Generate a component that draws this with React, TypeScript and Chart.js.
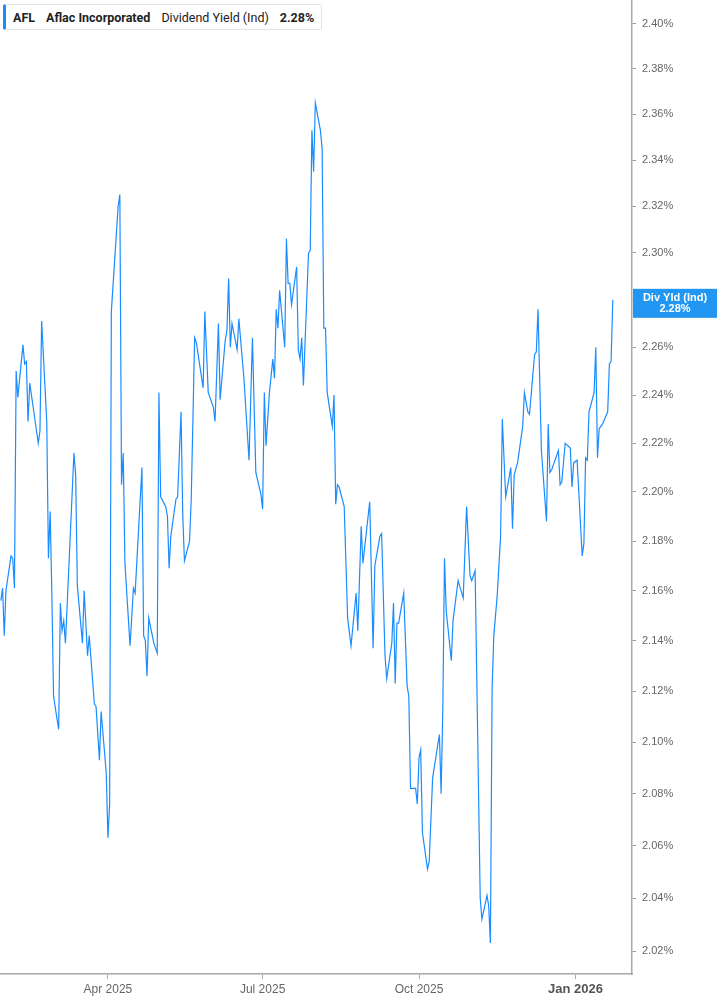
import React, { useEffect, useRef } from "react";
import { Chart, registerables } from "chart.js";

Chart.register(...registerables);

// Days since 1 Jan 2025 (calendar days)
const tradingDays = [
  27, 28, 29, 30, 33, 34, 35, 36, 37, 40, 41, 42, 43, 44, 49, 50, 51, 54, 55, 56,
  57, 58, 61, 62, 63, 64, 65, 70, 71, 72, 75, 76, 78, 79, 82, 83, 85, 86, 89, 90,
  91, 92, 96, 97, 98, 99, 100, 103, 105, 106, 110, 111, 112, 113, 114, 117, 119, 120, 121, 124,
  125, 126, 127, 130, 131, 133, 134, 135, 138, 139, 141, 142, 146, 147, 149, 152, 153, 155, 156, 159,
  160, 161, 162, 163, 166, 167, 170, 173, 175, 177, 180, 181, 182, 183, 185, 187, 188, 189, 190, 191,
  194, 195, 196, 197, 198, 201, 202, 203, 204, 205, 208, 209, 210, 211, 212, 215, 216, 217, 218, 219,
  222, 223, 224, 225, 226, 229, 231, 233, 236, 237, 239, 240, 244, 246, 247, 250, 251, 253, 254, 257,
  258, 259, 260, 261, 264, 266, 267, 268, 271, 272, 273, 274, 275, 278, 279, 281, 285, 286, 287, 288,
  289, 292, 293, 296, 299, 301, 303, 304, 306, 309, 310, 313, 314, 315, 316, 317, 319, 321, 322, 324,
  327, 328, 329, 331, 334, 335, 337, 338, 341, 342, 343, 345, 348, 349, 350, 351, 355, 356, 357, 359,
  362, 363, 364, 366, 369, 370, 371, 372, 373, 376, 377, 378, 379, 381, 384, 385, 386, 387,
];

// Dividend yield (%)
const divYield = [
  2.156, 2.161, 2.142, 2.160, 2.174, 2.173, 2.161, 2.250, 2.239, 2.261, 2.253, 2.254, 2.229, 2.245, 2.220, 2.225, 2.271, 2.229, 2.173, 2.192,
  2.159, 2.118, 2.105, 2.155, 2.144, 2.148, 2.139, 2.216, 2.207, 2.162, 2.139, 2.160, 2.134, 2.142, 2.115, 2.114, 2.093, 2.112, 2.088, 2.063,
  2.076, 2.275, 2.320, 2.325, 2.203, 2.216, 2.171, 2.138, 2.161, 2.159, 2.210, 2.142, 2.140, 2.126, 2.149, 2.139, 2.135, 2.241, 2.198, 2.194,
  2.190, 2.169, 2.182, 2.197, 2.198, 2.233, 2.191, 2.172, 2.180, 2.197, 2.264, 2.262, 2.243, 2.275, 2.241, 2.235, 2.229, 2.270, 2.238, 2.263,
  2.267, 2.289, 2.260, 2.270, 2.259, 2.272, 2.247, 2.213, 2.264, 2.208, 2.199, 2.193, 2.241, 2.219, 2.241, 2.255, 2.247, 2.276, 2.268, 2.284,
  2.260, 2.306, 2.287, 2.287, 2.278, 2.294, 2.259, 2.255, 2.264, 2.244, 2.300, 2.301, 2.353, 2.335, 2.365, 2.353, 2.345, 2.268, 2.268, 2.241,
  2.227, 2.240, 2.195, 2.203, 2.202, 2.194, 2.149, 2.138, 2.159, 2.144, 2.186, 2.171, 2.196, 2.137, 2.170, 2.182, 2.183, 2.134, 2.125, 2.139,
  2.155, 2.123, 2.147, 2.147, 2.159, 2.122, 2.118, 2.082, 2.082, 2.076, 2.094, 2.097, 2.065, 2.051, 2.054, 2.086, 2.103, 2.080, 2.113, 2.173,
  2.152, 2.132, 2.148, 2.164, 2.157, 2.194, 2.166, 2.164, 2.168, 2.040, 2.032, 2.041, 2.037, 2.023, 2.121, 2.142, 2.158, 2.182, 2.230, 2.198,
  2.210, 2.185, 2.207, 2.212, 2.227, 2.241, 2.233, 2.232, 2.257, 2.258, 2.276, 2.217, 2.188, 2.228, 2.208, 2.209, 2.217, 2.203, 2.204, 2.220,
  2.218, 2.202, 2.212, 2.213, 2.174, 2.179, 2.214, 2.213, 2.233, 2.241, 2.260, 2.214, 2.226, 2.228, 2.233, 2.253, 2.254, 2.280,
];

const yTickValues = [
  2.02, 2.04, 2.06, 2.08, 2.1, 2.12, 2.14, 2.16, 2.18, 2.2,
  2.22, 2.24, 2.26, 2.28, 2.3, 2.32, 2.34, 2.36, 2.38, 2.4,
];

const xTickDays = [90, 181, 273, 365];
const xTickLabels = ["Apr 2025", "Jul 2025", "Oct 2025", "Jan 2026"];
const boldTickLabel = "Jan 2026";

const ticker = "AFL";
const companyName = "Aflac Incorporated";
const metricName = "Dividend Yield (Ind)";
const seriesShortName = "Div Yld (Ind)";

const LINE_BLUE = "#1a8cff";
const BOX_BLUE = "#2196f3";
const AXIS_FONT = "'Liberation Sans', Arial, Helvetica, sans-serif";

const lastValueBox = {
  id: "lastValueBox",
  afterDraw(chart: any) {
    const { ctx, chartArea, scales } = chart;
    const last = divYield[divYield.length - 1];
    const py = scales.y.getPixelForValue(last);
    const x0 = chartArea.right + 1;
    const w = chart.width - x0;
    ctx.save();
    ctx.fillStyle = BOX_BLUE;
    ctx.fillRect(x0, py - 11, w, 29);
    ctx.fillStyle = "#ffffff";
    ctx.font = `bold 11px ${AXIS_FONT}`;
    ctx.textAlign = "center";
    ctx.textBaseline = "middle";
    const cx = x0 + w / 2;
    ctx.fillText(seriesShortName, cx, py - 2);
    ctx.fillText(last.toFixed(2) + "%", cx, py + 9);
    ctx.restore();
  },
};

export default function App() {
  const canvasRef = useRef<HTMLCanvasElement | null>(null);

  useEffect(() => {
    const canvas = canvasRef.current;
    if (!canvas) return;
    const points = tradingDays.map((d, i) => ({ x: d, y: divYield[i] }));
    const chart = new Chart(canvas, {
      type: "line",
      data: {
        datasets: [
          {
            label: seriesShortName,
            data: points,
            borderColor: LINE_BLUE,
            borderWidth: 1.2,
            pointRadius: 0,
            pointHoverRadius: 0,
            tension: 0,
            fill: false,
          },
        ],
      },
      options: {
        responsive: false,
        animation: false,
        maintainAspectRatio: false,
        layout: { padding: 0 },
        plugins: {
          legend: { display: false },
          tooltip: { enabled: false },
        },
        scales: {
          x: {
            type: "linear",
            min: 26.5,
            max: 398.3,
            afterBuildTicks: (axis: any) => {
              axis.ticks = xTickDays.map((v) => ({ value: v }));
            },
            afterFit: (axis: any) => {
              axis.height = 31;
              axis.paddingLeft = 0;
              axis.paddingRight = 0;
            },
            grid: {
              drawOnChartArea: false,
              drawTicks: true,
              tickLength: 5,
              color: "#aaaaaa",
            },
            border: { display: true, color: "#a8a8a8", width: 1.5 },
            ticks: {
              autoSkip: false,
              maxRotation: 0,
              padding: 3,
              color: (ctx: any) =>
                xTickLabels[xTickDays.indexOf(ctx.tick?.value)] === boldTickLabel ? "#555555" : "#666666",
              font: (ctx: any) =>
                xTickLabels[xTickDays.indexOf(ctx.tick?.value)] === boldTickLabel
                  ? { family: AXIS_FONT, size: 13, weight: "bold" }
                  : { family: AXIS_FONT, size: 12, weight: "normal" },
              callback: (value: any) => {
                const idx = xTickDays.indexOf(Number(value));
                return idx >= 0 ? xTickLabels[idx] : "";
              },
            },
          },
          y: {
            type: "logarithmic",
            position: "right",
            min: 2.0114,
            max: 2.4107,
            afterBuildTicks: (axis: any) => {
              axis.ticks = yTickValues.map((v) => ({ value: v }));
            },
            afterFit: (axis: any) => {
              axis.width = 85;
              axis.paddingTop = 0;
              axis.paddingBottom = 0;
            },
            grid: {
              drawOnChartArea: false,
              drawTicks: true,
              tickLength: 4,
              color: "#999999",
            },
            border: { display: true, color: "#a8a8a8", width: 1.5 },
            ticks: {
              autoSkip: false,
              padding: 6,
              color: "#666666",
              font: { family: AXIS_FONT, size: 11 },
              callback: (value: any) => Number(value).toFixed(2) + "%",
            },
          },
        },
      },
      plugins: [lastValueBox],
    } as any);
    return () => chart.destroy();
  }, []);

  const lastVal = divYield[divYield.length - 1].toFixed(2) + "%";

  return (
    <div
      style={{
        position: "fixed",
        left: 0,
        top: 0,
        width: 717,
        height: 1005,
        background: "#ffffff",
        overflow: "hidden",
      }}
    >
      <canvas ref={canvasRef} width={717} height={1005} style={{ display: "block", width: 717, height: 1005 }} />
      <div
        style={{
          position: "absolute",
          left: 3,
          top: 4,
          height: 26,
          boxSizing: "border-box",
          display: "flex",
          alignItems: "center",
          gap: 11,
          paddingLeft: 7,
          paddingRight: 7,
          background: "#ffffff",
          border: "1px solid #e4e4e4",
          borderLeft: `3px solid ${LINE_BLUE}`,
          borderRadius: 2,
          fontFamily: "Roboto, Inter, 'Noto Sans', sans-serif",
          fontSize: 12.5,
          color: "#222222",
          whiteSpace: "nowrap",
        }}
      >
        <span style={{ fontWeight: 700 }}>{ticker}</span>
        <span style={{ fontWeight: 700 }}>{companyName}</span>
        <span style={{ fontWeight: 400 }}>{metricName}</span>
        <span style={{ fontWeight: 700 }}>{lastVal}</span>
      </div>
    </div>
  );
}
